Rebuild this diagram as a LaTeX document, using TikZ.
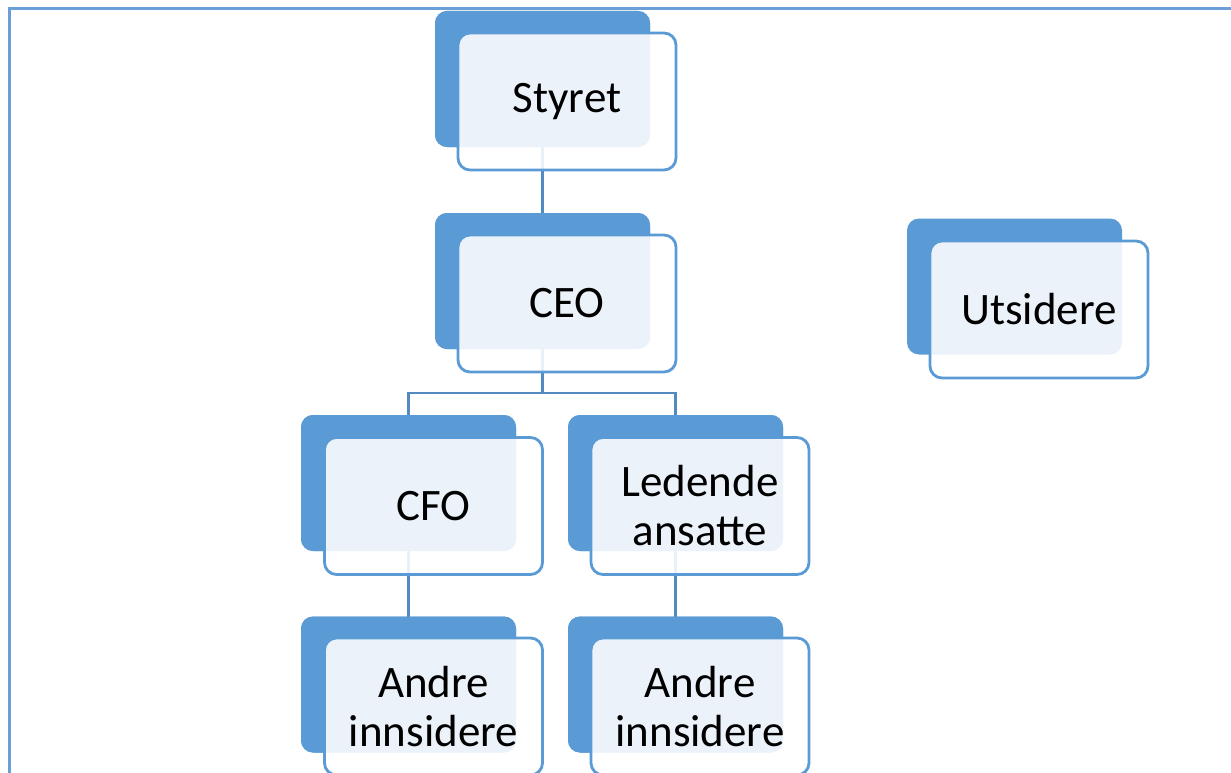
\documentclass[tikz,border=0pt]{standalone}
\usepackage{fontspec}
\setmainfont{Carlito}
\definecolor{accent}{HTML}{5B9BD5}
\definecolor{framec}{HTML}{6A9FD8}
\tikzset{
  backbox/.style={fill=accent, draw=none, rounded corners=12pt, minimum width=215pt, minimum height=136pt, outer sep=0pt, inner sep=0pt},
  frontbox/.style={fill=white, fill opacity=0.88, text opacity=1, draw=accent, draw opacity=1, line width=2.8pt, rounded corners=12pt, minimum width=218pt, minimum height=137pt, outer sep=0pt, inner sep=0pt, align=center, font=\fontsize{45}{49}\selectfont},
  link/.style={draw=accent!90!black, line width=2.6pt}
}
\begin{document}
\begin{tikzpicture}[x=1pt,y=-1pt]
\useasboundingbox (0,0) rectangle (1231,773);
\fill[white] (0,0) rectangle (1231,773);
\draw[framec, line width=3pt] (9,775) -- (9,9) -- (1233,9);
% back boxes (used as connector anchors)
\node[backbox] (sb) at (542.5,79) {};
\node[backbox] (cb) at (542.5,281) {};
\node[backbox] (fb) at (408.5,483) {};
\node[backbox] (lb) at (675.5,483) {};
\node[backbox] (alb) at (408.5,684.5) {};
\node[backbox] (arb) at (675.5,684.5) {};
\node[backbox] (ub) at (1014.5,286.5) {};
% connectors (behind front boxes)
\coordinate (j) at (542.5,393);
\draw[link] (sb.south) -- (cb.north);
\draw[link] (cb.south) -- (j);
\draw[link] (fb.north) |- (j) -| (lb.north);
\draw[link] (fb.south) -- (alb.north);
\draw[link] (lb.south) -- (arb.north);
% redraw back boxes over connector ends
\node[backbox] at (sb) {};
\node[backbox] at (cb) {};
\node[backbox] at (fb) {};
\node[backbox] at (lb) {};
\node[backbox] at (alb) {};
\node[backbox] at (arb) {};
% front boxes with text
\node[frontbox] (s) at (567,101.5) {\raisebox{-2pt}{Styret}};
\node[frontbox] (c) at (567,303.5) {CEO};
\node[frontbox] (f) at (433.5,506) {CFO};
\node[frontbox] (l) at (700,506) {Ledende\\ansatte};
\node[frontbox] (al) at (433.5,706.5) {Andre\\innsidere};
\node[frontbox] (ar) at (700,706.5) {Andre\\innsidere};
\node[frontbox] (u) at (1039,309.5) {Utsidere};
\end{tikzpicture}
\end{document}
